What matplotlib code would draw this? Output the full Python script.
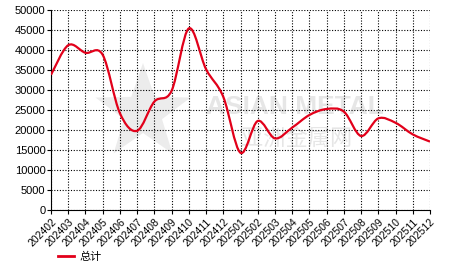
import matplotlib
matplotlib.use("Agg")
import matplotlib.pyplot as plt
from matplotlib.path import Path
from matplotlib.patches import PathPatch, Polygon
from matplotlib.lines import Line2D
import numpy as np

months = ["202402", "202403", "202404", "202405", "202406", "202407", "202408",
          "202409", "202410", "202411", "202412", "202501", "202502", "202503",
          "202504", "202505", "202506", "202507", "202508", "202509", "202510",
          "202511", "202512"]
total = [33800, 41200, 39300, 38800, 24200, 19800, 27100, 29800, 45400, 35200,
         28300, 14300, 22250, 17900, 20600, 23750, 25250, 24600, 18500, 22900,
         21800, 18900, 17100]
series_name = "总计"

plt.rcParams['font.family'] = ['Liberation Sans', 'Noto Sans CJK SC', 'DejaVu Sans']

fig = plt.figure(figsize=(4.66, 2.72), dpi=100)
ax = fig.add_axes([51/466, 62/272, 379/466, 200/272])

x = np.arange(len(months))
y = np.array(total, dtype=float)

# smooth curve through the points (Catmull-Rom as cubic Bezier segments)
verts = [(x[0], y[0])]
codes = [Path.MOVETO]
t = 1/6
for i in range(len(x) - 1):
    p0 = (x[max(i-1, 0)], y[max(i-1, 0)])
    p1 = (x[i], y[i])
    p2 = (x[i+1], y[i+1])
    p3 = (x[min(i+2, len(x)-1)], y[min(i+2, len(x)-1)])
    c1 = (p1[0] + (p2[0]-p0[0])*t, p1[1] + (p2[1]-p0[1])*t)
    c2 = (p2[0] - (p3[0]-p1[0])*t, p2[1] - (p3[1]-p1[1])*t)
    verts += [c1, c2, p2]
    codes += [Path.CURVE4]*3
ax.add_patch(PathPatch(Path(verts, codes), fill=False, edgecolor='#e2001a',
                       linewidth=1.6, zorder=3))

ax.set_xlim(0, len(months)-1)
ax.set_ylim(0, 50000)
ax.set_yticks(np.arange(0, 50001, 5000))
ax.set_xticks(x)
ax.set_xticklabels(months, rotation=45, ha='right', rotation_mode='anchor', fontsize=7.5)
ax.tick_params(axis='y', labelsize=8, length=3, pad=1)
ax.tick_params(axis='x', length=3, pad=2)
ax.grid(True, color='black', linestyle=(0, (1, 1.5)), linewidth=0.8)
ax.spines['top'].set_visible(False)
ax.spines['right'].set_visible(False)

# watermark (decoration, in figure pixel coordinates)
cx, cy, R, r = 143, 272-113, 50, 20
ang = np.pi/2 + np.arange(10) * np.pi/5
rad = np.where(np.arange(10) % 2 == 0, R, r)
star = Polygon(np.column_stack([cx + rad*np.cos(ang), cy + rad*np.sin(ang)]) / [466, 272],
               closed=True, transform=fig.transFigure, facecolor='#ececec',
               edgecolor='none', zorder=0)
fig.patches.append(star)
ax.set_facecolor('none')
fig.text(295/466, (272-107)/272, "ASIAN METAL", fontsize=19, color='#e6e6e6',
         ha='center', va='center', fontweight='bold', zorder=0)
fig.text(297/466, (272-138)/272, "亚洲金属网", fontsize=16, color='#e6e6e6',
         ha='center', va='center', zorder=0,
         family=['Noto Sans CJK SC', 'DejaVu Sans'])
ax.set_zorder(1)

handle = Line2D([], [], color='#e2001a', linewidth=2)
fig.legend([handle], [series_name], loc='lower left', bbox_to_anchor=(48/466, 0/272),
           frameon=False, handlelength=1.4, handletextpad=0.5,
           prop={'family': ['Noto Sans CJK SC', 'DejaVu Sans'], 'size': 8})

fig.savefig("out.png", dpi=100)
